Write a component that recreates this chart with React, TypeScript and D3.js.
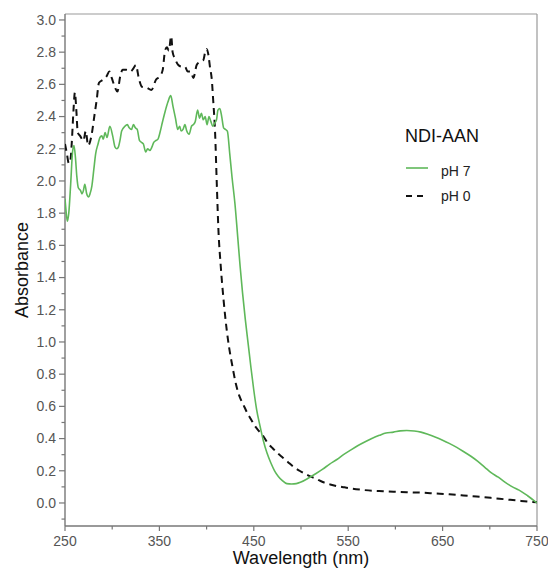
import React from "react";
import * as d3 from "d3";

const wavelengthsPH7 = [250,251,252.5,254,256,258,259.5,261,262.5,264,266.5,268,269.5,271,273,275,276.5,278.5,280.5,282.5,285,287,289,290.5,292.5,294.5,297.5,300.5,303,305,306.5,308.5,310,313.5,316,318,320.5,322.5,324.5,326.5,329,331,333,335.5,337.5,340,342,344,346,348.5,351,353,356,359,362,364.5,367,369.5,371.5,373,375,377,379,381.5,384,386,388,390.5,392.5,394.5,396.5,398.5,400.5,402.5,404.5,406.5,408.5,410.5,412,414,416,418,420,422,424.5,427,430,433,435.5,438,441,444,447,450,453,456.5,460,464,468,472,476,480,485,490,495,500,508,515,523,530,538,545,553,560,568,575,583,590,598,605,612,620,627,635,642,650,657,665,672,680,687,695,701,709,716,724,731,740,750];
const absorbancePH7 = [1.89,1.82,1.75,1.80,1.98,2.18,2.22,2.15,2.03,1.96,1.94,1.92,1.94,1.98,1.92,1.90,1.92,1.97,2.07,2.17,2.23,2.27,2.28,2.26,2.30,2.27,2.34,2.28,2.21,2.20,2.21,2.26,2.31,2.34,2.35,2.33,2.32,2.35,2.33,2.32,2.25,2.24,2.23,2.18,2.20,2.19,2.21,2.24,2.25,2.26,2.31,2.36,2.43,2.49,2.53,2.46,2.39,2.32,2.34,2.31,2.32,2.35,2.31,2.29,2.34,2.35,2.37,2.44,2.39,2.42,2.38,2.40,2.35,2.40,2.37,2.34,2.36,2.38,2.44,2.45,2.40,2.33,2.32,2.31,2.17,2.02,1.86,1.65,1.47,1.31,1.14,0.99,0.84,0.70,0.58,0.48,0.39,0.31,0.25,0.20,0.165,0.14,0.12,0.118,0.12,0.13,0.155,0.18,0.21,0.24,0.27,0.30,0.33,0.355,0.38,0.40,0.42,0.435,0.44,0.448,0.45,0.447,0.44,0.425,0.41,0.39,0.37,0.345,0.32,0.29,0.26,0.22,0.19,0.16,0.13,0.10,0.08,0.045,0.0];

const wavelengthsPH0 = [250,252,254,255.5,257,259,260.5,262,263.5,266,269.5,272,274.5,278,281,283.5,286,290.5,294,297,299.5,303,305.5,308.5,311,315,319.5,322.5,325,328.5,331.5,336.5,341.5,346.5,350.5,353.5,356,358,360,362.5,364,366.5,370,373.5,377,380,383,386,389.5,393,396.5,398.5,400,402,403.5,405.5,407,409,410.7,412.5,415,418,421,424,427,431,435,439,443,447,451,455,460,465,470,475,480,486,492,500,508,516,523,531,538,546,553,564,575,587,598,612,627,642,657,672,686,701,716,733,750];
const absorbancePH0 = [2.23,2.17,2.11,2.12,2.22,2.44,2.55,2.44,2.30,2.28,2.25,2.31,2.22,2.28,2.40,2.50,2.61,2.63,2.65,2.68,2.64,2.58,2.555,2.65,2.69,2.69,2.68,2.70,2.72,2.63,2.585,2.58,2.565,2.63,2.65,2.69,2.81,2.83,2.81,2.90,2.80,2.76,2.72,2.71,2.71,2.68,2.68,2.64,2.72,2.74,2.75,2.80,2.82,2.78,2.71,2.63,2.50,2.30,2.00,1.70,1.47,1.26,1.09,0.96,0.86,0.74,0.66,0.61,0.56,0.52,0.48,0.45,0.415,0.37,0.34,0.31,0.285,0.255,0.225,0.195,0.17,0.15,0.13,0.115,0.105,0.097,0.09,0.082,0.076,0.073,0.07,0.067,0.064,0.059,0.054,0.047,0.04,0.032,0.023,0.013,0.004];

const xTickLabels = [250, 350, 450, 550, 650, 750];
const xMinorTicks = [300, 400, 500, 600, 700];
const yTickLabels = [0.0, 0.2, 0.4, 0.6, 0.8, 1.0, 1.2, 1.4, 1.6, 1.8, 2.0, 2.2, 2.4, 2.6, 2.8, 3.0];
const yMinorTicks = [-0.1, 0.1, 0.3, 0.5, 0.7, 0.9, 1.1, 1.3, 1.5, 1.7, 1.9, 2.1, 2.3, 2.5, 2.7, 2.9];

const legendTitle = "NDI-AAN";
const seriesNames = ["pH 7", "pH 0"];

const W = 548, H = 571;
const left = 65, right = 537, top = 14, bottom = 526;
const FONT = "'Liberation Sans', Arial, Helvetica, sans-serif";
const GREEN = "#5fb85a";
const AXIS = "#777";
const TICKTXT = "#555";

export default function App() {
  const x = d3.scaleLinear().domain([250, 750]).range([left, right]);
  const y = d3.scaleLinear().domain([-0.143, 3.037]).range([bottom, top]);
  const line = d3
    .line<[number, number]>()
    .x((d) => x(d[0]))
    .y((d) => y(d[1]))
    .curve(d3.curveMonotoneX);
  const green = line(wavelengthsPH7.map((w, i) => [w, absorbancePH7[i]]) as [number, number][]) || "";
  const black = line(wavelengthsPH0.map((w, i) => [w, absorbancePH0[i]]) as [number, number][]) || "";

  return (
    <svg width={W} height={H} style={{ position: "absolute", left: 0, top: 0, background: "#fff" }} fontFamily={FONT}>
      <rect x={0} y={0} width={W} height={H} fill="#fff" />
      <defs>
        <clipPath id="plotclip">
          <rect x={left} y={top} width={right - left} height={bottom - top} />
        </clipPath>
      </defs>
      {/* frame */}
      <line x1={left} x2={right} y1={top} y2={top} stroke="#999" strokeWidth={1.2} />
      <line x1={right} x2={right} y1={top} y2={bottom} stroke="#999" strokeWidth={1.2} />
      <line x1={left} x2={left} y1={top} y2={bottom} stroke={AXIS} strokeWidth={1.4} />
      <line x1={left} x2={right} y1={bottom} y2={bottom} stroke={AXIS} strokeWidth={1.4} />
      {/* y ticks */}
      {yTickLabels.map((v) => (
        <g key={"y" + v}>
          <line x1={left - 6} x2={left} y1={y(v)} y2={y(v)} stroke={AXIS} strokeWidth={1.2} />
          <text x={left - 9} y={y(v)} dy="0.35em" textAnchor="end" fontSize={14} fill={TICKTXT}>
            {d3.format(".1f")(v)}
          </text>
        </g>
      ))}
      {yMinorTicks.map((v) => (
        <line key={"ym" + v} x1={left - 3.5} x2={left} y1={y(v)} y2={y(v)} stroke={AXIS} strokeWidth={1.2} />
      ))}
      {/* x ticks */}
      {xTickLabels.map((v) => (
        <g key={"x" + v}>
          <line x1={x(v)} x2={x(v)} y1={bottom} y2={bottom + 5} stroke={AXIS} strokeWidth={1.2} />
          <text x={x(v)} y={bottom + 20} textAnchor="middle" fontSize={14} fill={TICKTXT}>
            {v}
          </text>
        </g>
      ))}
      {xMinorTicks.map((v) => (
        <line key={"xm" + v} x1={x(v)} x2={x(v)} y1={bottom} y2={bottom + 3.5} stroke={AXIS} strokeWidth={1.2} />
      ))}
      {/* axis titles */}
      <text x={301} y={564} textAnchor="middle" fontSize={18} fill="#111">
        Wavelength (nm)
      </text>
      <text transform={`translate(28,270) rotate(-90)`} textAnchor="middle" fontSize={18} fill="#111">
        Absorbance
      </text>
      {/* curves */}
      <g clipPath="url(#plotclip)">
        <path d={black} fill="none" stroke="#111" strokeWidth={2} strokeDasharray="7,5" />
        <path d={green} fill="none" stroke={GREEN} strokeWidth={1.6} />
      </g>
      {/* legend */}
      <text x={405} y={142} fontSize={18} fill="#111">
        {legendTitle}
      </text>
      <line x1={406} x2={428} y1={168} y2={168} stroke={GREEN} strokeWidth={1.6} />
      <text x={441} y={175.5} fontSize={14} fill="#222">
        {seriesNames[0]}
      </text>
      <line x1={406} x2={428} y1={196} y2={196} stroke="#111" strokeWidth={2} strokeDasharray="6,5" />
      <text x={441} y={200.5} fontSize={14} fill="#222">
        {seriesNames[1]}
      </text>
    </svg>
  );
}
